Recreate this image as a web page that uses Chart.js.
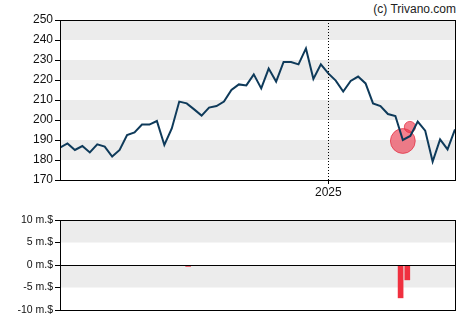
<!DOCTYPE html>
<html>
<head>
<meta charset="utf-8">
<script src="https://cdn.jsdelivr.net/npm/chart.js@4.4.1/dist/chart.umd.min.js"></script>
<style>
  body { margin:0; background:#fff; width:470px; height:325px; position:relative; overflow:hidden; }
  #price { position:absolute; left:0; top:0; }
  #trades { position:absolute; left:0; top:200px; }
  #credit { position:absolute; right:14px; top:2px; font:12px "Liberation Sans", Arial, sans-serif; color:#222; }
</style>
</head>
<body>
<div id="credit">(c) Trivano.com</div>
<canvas id="price" width="470" height="200"></canvas>
<canvas id="trades" width="470" height="125"></canvas>
<script>
// weekly closing prices
const closes = [
  186.2, 188.3, 185, 187, 183.8, 187.8, 186.7, 181.7, 185, 192.5,
  193.8, 197.7, 197.7, 199.5, 187.5, 195.8, 209.2, 208.3, 205.3, 202.2,
  206.2, 207, 209.2, 215, 217.8, 217.3, 222.8, 215.8, 225.7, 219.2,
  229, 229, 227.8, 235.8, 220.5, 227.8, 223.3, 219.7, 214.2, 219.5,
  221.7, 218.3, 208.3, 207, 203, 202, 190, 192, 199.2, 194.7,
  179.2, 190.3, 185.3, 195.3
];
const yearWeeks = [36];
const yearLabels = ['2025'];

// insider trades: week position, price, net amount (million $)
const tradeWeeks = [46, 46.95];
const tradePrices = [189.5, 196.5];
const tradeAmounts = [-7.3, -3.3];

// net insider flow bars
const flowWeeks = [17.2, 45.7, 46.6];
const flowAmounts = [-0.3, -7.3, -3.3];

const FONT = '"Liberation Sans", Arial, sans-serif';
const BAND = '#ececec';

const bandsPlugin = {
  id: 'bands',
  beforeDatasetsDraw(chart) {
    const { ctx, chartArea: a, scales: { y } } = chart;
    const vals = y.ticks.map(t => t.value).sort((p, q) => q - p);
    ctx.save();
    ctx.fillStyle = BAND;
    for (let i = 0; i + 1 < vals.length; i += 2) {
      const top = y.getPixelForValue(vals[i]);
      const bot = y.getPixelForValue(vals[i + 1]);
      ctx.fillRect(a.left, top, a.right - a.left, bot - top);
    }
    ctx.restore();
  }
};

const framePlugin = {
  id: 'frame',
  afterDraw(chart) {
    const { ctx, chartArea: a, scales } = chart;
    ctx.save();
    ctx.strokeStyle = '#000';
    ctx.lineWidth = 1;
    ctx.strokeRect(a.left + 0.5, a.top + 0.5, a.right - a.left, a.bottom - a.top);
    const opts = chart.options.plugins.frame || {};
    if (opts.zeroLine) {
      const zy = Math.round(scales.y.getPixelForValue(0)) + 0.5;
      ctx.beginPath(); ctx.moveTo(a.left, zy); ctx.lineTo(a.right, zy); ctx.stroke();
    }
    if (opts.yearLines) {
      ctx.setLineDash([1, 2]);
      yearWeeks.forEach(w => {
        const px = Math.round(scales.x.getPixelForValue(w)) + 0.5;
        ctx.beginPath(); ctx.moveTo(px, a.top); ctx.lineTo(px, a.bottom); ctx.stroke();
      });
    }
    ctx.restore();
  }
};

new Chart(document.getElementById('price'), {
  type: 'line',
  data: {
    datasets: [
      {
        type: 'line',
        data: closes.map((v, i) => ({ x: i, y: v })),
        borderColor: '#0e3a5a',
        borderWidth: 2,
        pointRadius: 0,
        tension: 0,
        order: 0
      },
      {
        type: 'bubble',
        data: tradeWeeks.map((w, i) => ({ x: w, y: tradePrices[i], r: Math.abs(tradeAmounts[i]) * 1.7 })),
        backgroundColor: 'rgba(236,52,72,0.62)',
        borderColor: 'rgba(225,40,60,0.7)',
        borderWidth: 1,
        order: 1
      }
    ]
  },
  options: {
    responsive: false,
    animation: false,
    layout: { padding: { left: 0, right: 15, top: 20, bottom: 0 } },
    plugins: { legend: { display: false }, tooltip: { enabled: false }, frame: { yearLines: true } },
    scales: {
      x: {
        type: 'linear', min: 0, max: closes.length - 1,
        afterBuildTicks: s => { s.ticks = yearWeeks.map(w => ({ value: w })); },
        afterFit: s => { s.height = 20; },
        ticks: {
          autoSkip: false, maxRotation: 0, padding: 1,
          color: '#111', font: { family: FONT, size: 12 },
          callback: v => yearLabels[yearWeeks.indexOf(v)]
        },
        grid: { drawOnChartArea: false, drawTicks: true, tickLength: 4, color: '#000' },
        border: { display: false }
      },
      y: {
        min: 170, max: 250,
        afterFit: s => { s.width = 60; },
        ticks: { stepSize: 10, padding: 2, color: '#111', font: { family: FONT, size: 12 } },
        grid: { drawOnChartArea: false, drawTicks: true, tickLength: 5, color: '#000' },
        border: { display: false }
      }
    }
  },
  plugins: [bandsPlugin, framePlugin]
});

new Chart(document.getElementById('trades'), {
  type: 'bar',
  data: {
    datasets: [{
      data: flowWeeks.map((w, i) => ({ x: w, y: flowAmounts[i] })),
      backgroundColor: '#f0303f',
      barThickness: 5
    }]
  },
  options: {
    responsive: false,
    animation: false,
    layout: { padding: { left: 0, right: 15, top: 20, bottom: 15 } },
    plugins: { legend: { display: false }, tooltip: { enabled: false }, frame: { zeroLine: true } },
    scales: {
      x: { type: 'linear', min: 0, max: closes.length - 1, offset: false, display: false },
      y: {
        min: -10, max: 10,
        afterFit: s => { s.width = 60; },
        ticks: {
          stepSize: 5, padding: 2, color: '#111', font: { family: FONT, size: 10.5 },
          callback: v => v + ' m.$'
        },
        grid: { drawOnChartArea: false, drawTicks: true, tickLength: 5, color: '#000' },
        border: { display: false }
      }
    }
  },
  plugins: [bandsPlugin, framePlugin]
});
</script>
</body>
</html>
